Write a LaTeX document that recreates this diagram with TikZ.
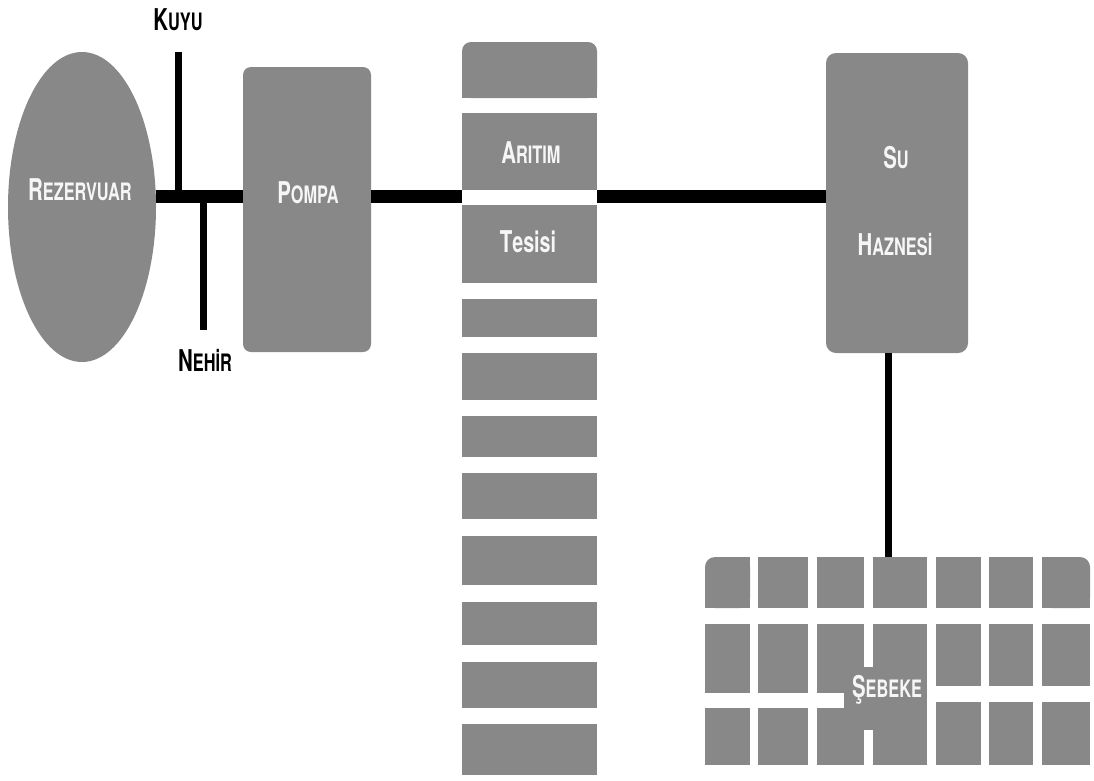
\documentclass[tikz,border=0pt]{standalone}
\usepackage{fontspec}
\newfontfamily\labfont{TeX Gyre Heros}[FakeStretch=0.68]
\usetikzlibrary{shapes.geometric}
\definecolor{boxgray}{RGB}{136,136,136}
\definecolor{txtwhite}{RGB}{246,246,246}
\newcommand\twosize[2]{{\fontsize{30}{30}\selectfont #1}{\fontsize{24}{24}\selectfont #2}}
\begin{document}
\begin{tikzpicture}[x=1pt,y=-1pt,
  box/.style={fill=boxgray, inner sep=0pt, outer sep=0pt},
  lab/.style={text=txtwhite, font=\labfont\bfseries, inner sep=0pt, anchor=base},
  blab/.style={text=black, font=\labfont\bfseries, inner sep=0pt, anchor=base},
  pipe/.style={line width=13pt, black},
  branch/.style={line width=7pt, black}]
\useasboundingbox[fill=white] (0,0) rectangle (1094,780);

% reservoir
\node[box, ellipse, minimum width=148pt, minimum height=310pt] (rez) at (82,207) {};
\node[lab] (rezlab) at (80,200) {\twosize{R}{EZERVUAR}};

% pump
\node[box, rounded corners=8pt, minimum width=128pt, minimum height=285pt] (pompa) at (307,209.5) {};
\node[lab] (pompalab) at (308,203) {\twosize{P}{OMPA}};

% treatment plant column
\node[box, rounded corners=9pt, minimum width=135pt, minimum height=56pt] (ar1) at (529.5,70) {};
\fill[boxgray] (ar1.west) rectangle (ar1.south east);
\foreach \i/\t/\b in {2/113/190, 3/205/283, 4/299/337, 5/353/400, 6/416/457, 7/473/519, 8/536/585, 9/602/645, 10/662/708, 11/724/775}
  \node[box, minimum width=135pt, minimum height={(\b-\t)*1pt}] (ar\i) at (529.5,{(\t+\b)/2}) {};
\node[lab] (arlab) at (531,163) {\twosize{A}{RITIM}};
\node[lab] (teslab) at (528,252) {{\fontsize{30}{30}\selectfont T}{\fontsize{29}{29}\selectfont esisi}};

% water tank
\node[box, rounded corners=10pt, minimum width=142pt, minimum height=300pt] (su) at (897,203) {};
\node[lab] (sulab) at (896,168) {\twosize{S}{U}};
\node[lab] (hazlab) at (895,255) {\twosize{H}{AZNESİ}};

% network grid
\node[box, rounded corners=10pt, minimum width=45pt, minimum height=51pt] (g11) at (727.5,582.5) {};
\fill[boxgray] (g11.west) rectangle (g11.south east);
\fill[boxgray] (g11.north) rectangle (g11.south east);
\foreach \c/\xa/\xb in {2/758/808, 3/817/864, 4/873/927, 5/936/981, 6/989/1033}
  \node[box, minimum width={(\xb-\xa)*1pt}, minimum height=51pt] (g1\c) at ({(\xa+\xb)/2},582.5) {};
\node[box, rounded corners=10pt, minimum width=48pt, minimum height=51pt] (g17) at (1066,582.5) {};
\fill[boxgray] (g17.west) rectangle (g17.south east);
\fill[boxgray] (g17.north west) rectangle (g17.south);
\foreach \c/\xa/\xb in {1/705/750, 2/758/808, 3/817/864} {
  \node[box, minimum width={(\xb-\xa)*1pt}, minimum height=69pt] (g2\c) at ({(\xa+\xb)/2},658.5) {};
  \node[box, minimum width={(\xb-\xa)*1pt}, minimum height=57pt] (g3\c) at ({(\xa+\xb)/2},736.5) {};
}
\node[box, minimum width=54pt, minimum height=141pt] (g24) at (900,694.5) {};
\foreach \c/\xa/\xb in {5/936/981, 6/989/1033, 7/1042/1090} {
  \node[box, minimum width={(\xb-\xa)*1pt}, minimum height=62pt] (g2\c) at ({(\xa+\xb)/2},655) {};
  \node[box, minimum width={(\xb-\xa)*1pt}, minimum height=63pt] (g3\c) at ({(\xa+\xb)/2},733.5) {};
}
\node[box, minimum width=83pt, minimum height=63pt] (seb) at (885.5,698.5) {};
\node[lab] (seblab) at (887,697) {\twosize{Ş}{EBEKE}};

% pipes
\coordinate (py) at (0,196.5);
\coordinate (ktop) at (178,52);
\coordinate (nbot) at (203,330);
\coordinate (vx) at (888,0);
\draw[pipe] (rez.east |- py) -- (pompa.west |- py);
\draw[pipe] (pompa.east |- py) -- (ar2.west |- py);
\draw[pipe] (ar2.east |- py) -- (su.west |- py);
\draw[branch] (ktop) -- (ktop |- py);
\draw[branch] (nbot |- py) -- (nbot);
\draw[branch] (su.south -| vx) -- (g14.north -| vx);

% source labels
\node[blab] (kuyu) at (178,30) {\twosize{K}{UYU}};
\node[blab] (nehir) at (205,371) {\twosize{N}{EHİR}};
\end{tikzpicture}
\end{document}
